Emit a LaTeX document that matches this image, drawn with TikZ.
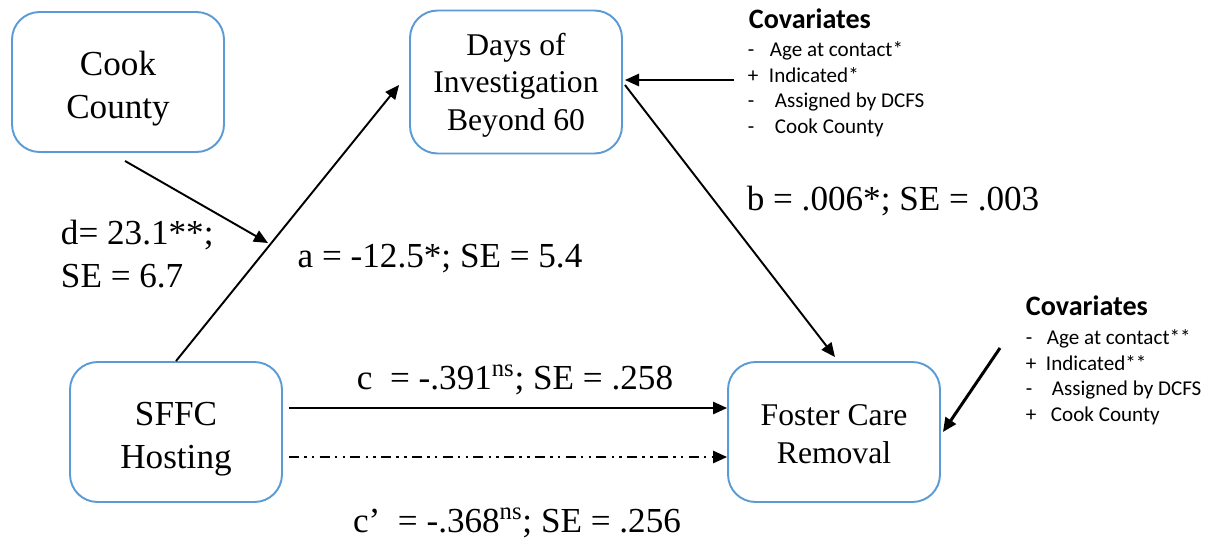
\documentclass[tikz,border=0pt]{standalone}
\usepackage{fontspec}
\setmainfont{Liberation Serif}
\newfontfamily\covfont{Carlito}
\usetikzlibrary{arrows.meta}
\definecolor{boxblue}{RGB}{91,155,213}
\newcommand{\covsign}[2]{\makebox[#1][l]{#2}}
\newcommand{\toplift}[1]{\rule{0pt}{#1}}

\begin{document}
\begin{tikzpicture}[x=0.02cm, y=-0.02cm, line width=1.1pt,
    varbox/.style={draw=boxblue, line width=1.1pt, rounded corners=0.55cm, minimum width=4.24cm, minimum height=2.8cm, align=center, inner sep=0pt},
    arr/.style={-{Triangle[length=8pt, width=7pt]}},
    coef/.style={font=\fontsize{20}{24}\selectfont, inner sep=0pt},
    covhead/.style={font=\covfont\bfseries\fontsize{16}{19}\selectfont, anchor=base west, inner sep=0pt},
    covlist/.style={font=\covfont\fontsize{12}{14.5}\selectfont, anchor=north west, align=left, inner sep=0pt}]
  \useasboundingbox (0,0) rectangle (1209,538);

  % variables
  \node[varbox, font=\fontsize{20}{24}\selectfont] (cook) at (118,82) {\toplift{21.3pt}Cook\\County};
  \node[varbox, minimum height=2.86cm, font=\fontsize{18}{21.3}\selectfont] (days) at (516,82) {\toplift{16.1pt}Days of\\Investigation\\Beyond 60};
  \node[varbox, font=\fontsize{20}{24.5}\selectfont] (sffc) at (176,432) {\toplift{21.7pt}SFFC\\Hosting};
  \node[varbox, font=\fontsize{18}{21.5}\selectfont] (foster) at (834,432) {\toplift{14.6pt}Foster Care\\Removal};

  % paths
  \draw[arr] (sffc.north) -- ([shift={(-10,3)}]days.west);
  \coordinate (dtip) at (268,243);
  \draw[arr] ([shift={(7,8)}]cook.south) -- (dtip);
  \draw[arr] ([shift={(2,3)}]days.east) -- ([shift={(1,-4)}]foster.north);
  \draw[arr] ([shift={(6,-24)}]sffc.east) -- ([shift={(0,-24)}]foster.west);
  \draw[arr, dash pattern=on 5.7pt off 3pt on 1.4pt off 3pt on 1.4pt off 3pt] ([shift={(6,25)}]sffc.east) -- ([shift={(0,25)}]foster.west);

  % coefficients
  \node[coef, anchor=west, align=left] (dlab) at (60,254) {d= 23.1**;\\SE = 6.7};
  \node[coef] (alab) at (440,259) {a = -12.5*; SE = 5.4};
  \node[coef] (blab) at (893,201) {b = .006*; SE = .003};
  \node[coef] (clab) at (515,380) {c\ \ = -.391\textsuperscript{ns}; SE = .258};
  \node[coef] (cplab) at (517,523) {c’\ \ = -.368\textsuperscript{ns}; SE = .256};

  % covariates
  \coordinate (cov1from) at (734,80);
  \draw[arr] (cov1from) -- ([shift={(2,-2)}]days.east);
  \node[covhead] (cov1head) at (748,28) {Covariates};
  \node[covlist] (cov1list) at (747,41) {\covsign{4.4mm}{-}Age at contact*\\ \covsign{4.2mm}{+}Indicated*\\ \covsign{5.4mm}{-}Assigned by DCFS\\ \covsign{5.4mm}{-}Cook County};

  \coordinate (cov2from) at (1000,348);
  \draw[arr, line width=1.7pt] (cov2from) -- ([shift={(2,0)}]foster.east);
  \node[covhead] (cov2head) at (1025,315) {Covariates};
  \node[covlist] (cov2list) at (1025,329) {\covsign{4.2mm}{-}Age at contact**\\ \covsign{4.0mm}{+}Indicated**\\ \covsign{5.2mm}{-}Assigned by DCFS\\ \covsign{5.0mm}{+}Cook County};
\end{tikzpicture}
\end{document}
